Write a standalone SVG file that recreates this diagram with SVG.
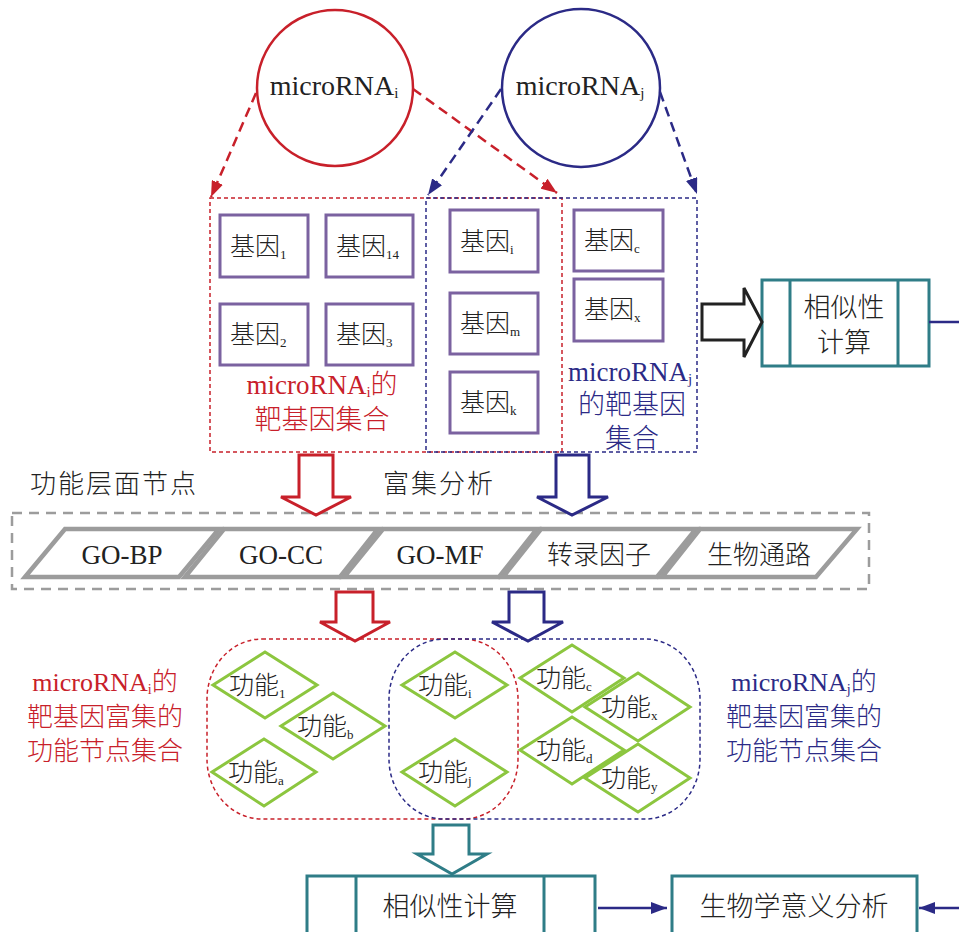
<svg xmlns="http://www.w3.org/2000/svg" width="959" height="932" viewBox="0 0 959 932">
<defs>
<style>
text{font-family:"Liberation Serif","Noto Sans CJK SC",serif;fill:#222;font-weight:300}
.t{font-size:25px}
.sub{font-size:13px}
.red{fill:#c8202a}
.blue{fill:#2b2a86}
.gene{fill:#fff;stroke:#7b62a0;stroke-width:3}
.dia{fill:#fff;stroke:#8cc63f;stroke-width:3}
.para{fill:#fff;stroke:#9c9c9c;stroke-width:4.5}
.teal{fill:#fff;stroke:#2f7d87;stroke-width:3}
.dr{fill:none;stroke:#c8202a;stroke-width:2.5;stroke-dasharray:10 6}
.db{fill:none;stroke:#2b2a86;stroke-width:2.5;stroke-dasharray:10 6}
.dr1{fill:none;stroke:#c8202a;stroke-width:1.5;stroke-dasharray:4 3}
.db1{fill:none;stroke:#2b2a86;stroke-width:1.5;stroke-dasharray:4 3}
</style>
<marker id="ar" viewBox="0 0 16 12" refX="16" refY="6" markerWidth="16" markerHeight="12" markerUnits="userSpaceOnUse" orient="auto"><path d="M0,0 L16,6 L0,12 z" fill="#c8202a"/></marker>
<marker id="ab" viewBox="0 0 16 12" refX="16" refY="6" markerWidth="16" markerHeight="12" markerUnits="userSpaceOnUse" orient="auto"><path d="M0,0 L16,6 L0,12 z" fill="#2b2a86"/></marker>
</defs>
<rect width="959" height="932" fill="#fff"/>

<g id="mirna-i">
<circle cx="335" cy="88" r="78" fill="none" stroke="#c8202a" stroke-width="2.5"/>
<text x="334" y="95" font-size="28" text-anchor="middle">microRNA<tspan font-size="15" dy="3">i</tspan></text>
</g>
<g id="mirna-j">
<circle cx="581" cy="88" r="79" fill="none" stroke="#2b2a86" stroke-width="2.5"/>
<text x="580" y="95" font-size="28" text-anchor="middle">microRNA<tspan font-size="15" dy="3">j</tspan></text>
</g>

<g id="targets-i">
<rect x="210" y="198" width="352" height="254" class="dr1"/>
<text x="322" y="394" font-size="27" class="red" text-anchor="middle">microRNA<tspan font-size="15" dy="3" class="red">i</tspan><tspan dy="-3" class="red">的</tspan></text>
<text x="322" y="429" font-size="27" class="red" text-anchor="middle">靶基因集合</text>
</g>
<g id="targets-j">
<rect x="426" y="198" width="271" height="254" class="db1"/>
<text x="630" y="381" font-size="27" class="blue" text-anchor="middle">microRNA<tspan font-size="15" dy="3" class="blue">j</tspan></text>
<text x="632" y="414" font-size="27" class="blue" text-anchor="middle">的靶基因</text>
<text x="632" y="448" font-size="27" class="blue" text-anchor="middle">集合</text>
</g>

<g id="gene-1"><rect x="220" y="215" width="88" height="62" class="gene"/><text x="230" y="255" class="t">基因<tspan class="sub" dy="4">1</tspan></text></g>
<g id="gene-14"><rect x="326" y="215" width="87" height="62" class="gene"/><text x="336" y="255" class="t">基因<tspan class="sub" dy="4">14</tspan></text></g>
<g id="gene-2"><rect x="220" y="304" width="88" height="61" class="gene"/><text x="230" y="343" class="t">基因<tspan class="sub" dy="4">2</tspan></text></g>
<g id="gene-3"><rect x="326" y="304" width="87" height="61" class="gene"/><text x="336" y="343" class="t">基因<tspan class="sub" dy="4">3</tspan></text></g>
<g id="gene-i"><rect x="450" y="210" width="88" height="62" class="gene"/><text x="460" y="250" class="t">基因<tspan class="sub" dy="4">i</tspan></text></g>
<g id="gene-m"><rect x="450" y="293" width="88" height="61" class="gene"/><text x="460" y="332" class="t">基因<tspan class="sub" dy="4">m</tspan></text></g>
<g id="gene-k"><rect x="450" y="372" width="88" height="61" class="gene"/><text x="460" y="411" class="t">基因<tspan class="sub" dy="4">k</tspan></text></g>
<g id="gene-c"><rect x="574" y="210" width="89" height="61" class="gene"/><text x="584" y="249" class="t">基因<tspan class="sub" dy="4">c</tspan></text></g>
<g id="gene-x"><rect x="574" y="279" width="89" height="62" class="gene"/><text x="584" y="318" class="t">基因<tspan class="sub" dy="4">x</tspan></text></g>

<g id="sim-1">
<rect x="762" y="280" width="167" height="86" class="teal"/>
<line x1="790" y1="280" x2="790" y2="366" stroke="#2f7d87" stroke-width="3"/>
<line x1="898" y1="280" x2="898" y2="366" stroke="#2f7d87" stroke-width="3"/>
<text x="844" y="317" font-size="27" text-anchor="middle">相似性</text>
<text x="844" y="352" font-size="27" text-anchor="middle">计算</text>
</g>

<g id="labels">
<text x="30" y="493" font-size="26" letter-spacing="2">功能层面节点</text>
<text x="383" y="493" font-size="26" letter-spacing="2">富集分析</text>
</g>

<g id="enrichment">
<rect x="12" y="513" width="857" height="76" fill="none" stroke="#9c9c9c" stroke-width="2.5" stroke-dasharray="10 7"/>
<g id="go-bp"><polygon points="25,577 65,529 219,529 179,577" class="para"/><text x="122" y="564" font-size="27" text-anchor="middle">GO-BP</text></g>
<g id="go-cc"><polygon points="185,577 224,529 378,529 340,577" class="para"/><text x="281" y="564" font-size="27" text-anchor="middle">GO-CC</text></g>
<g id="go-mf"><polygon points="344,577 383,529 537,529 499,577" class="para"/><text x="440" y="564" font-size="27" text-anchor="middle">GO-MF</text></g>
<g id="tf"><polygon points="503,577 541,529 696,529 657,577" class="para"/><text x="599" y="564" font-size="26" text-anchor="middle">转录因子</text></g>
<g id="pathway"><polygon points="662,577 700,529 857,529 816,577" class="para"/><text x="759" y="564" font-size="26" text-anchor="middle">生物通路</text></g>
</g>

<g id="func-sets">
<rect x="207" y="639" width="311" height="180" rx="55" ry="60" class="dr1"/>
<rect x="389" y="639" width="311" height="180" rx="55" ry="60" class="db1"/>
<text x="105" y="691" font-size="26" class="red" text-anchor="middle">microRNA<tspan font-size="14" dy="3" class="red">i</tspan><tspan dy="-3" class="red">的</tspan></text>
<text x="105" y="726" font-size="26" class="red" text-anchor="middle">靶基因富集的</text>
<text x="105" y="760" font-size="26" class="red" text-anchor="middle">功能节点集合</text>
<text x="804" y="691" font-size="26" class="blue" text-anchor="middle">microRNA<tspan font-size="14" dy="3" class="blue">j</tspan><tspan dy="-3" class="blue">的</tspan></text>
<text x="804" y="726" font-size="26" class="blue" text-anchor="middle">靶基因富集的</text>
<text x="804" y="760" font-size="26" class="blue" text-anchor="middle">功能节点集合</text>
</g>

<g id="f-1"><polygon points="213,685 265,652 317,685 265,718" class="dia"/><text x="229" y="694" class="t">功能<tspan class="sub" dy="4">1</tspan></text></g>
<g id="f-b"><polygon points="281,726 333,693 385,726 333,759" class="dia"/><text x="297" y="735" class="t">功能<tspan class="sub" dy="4">b</tspan></text></g>
<g id="f-a"><polygon points="212,772 264,739 316,772 264,806" class="dia"/><text x="228" y="781" class="t">功能<tspan class="sub" dy="4">a</tspan></text></g>
<g id="f-i"><polygon points="402,685 455,652 507,685 455,718" class="dia"/><text x="418" y="694" class="t">功能<tspan class="sub" dy="4">i</tspan></text></g>
<g id="f-j"><polygon points="402,772 455,739 507,772 455,806" class="dia"/><text x="418" y="781" class="t">功能<tspan class="sub" dy="4">j</tspan></text></g>
<g id="f-c"><polygon points="520,678 572,645 624,678 572,712" class="dia"/><text x="536" y="687" class="t">功能<tspan class="sub" dy="4">c</tspan></text></g>
<g id="f-x"><polygon points="585,707 638,673 690,707 638,741" class="dia"/><text x="601" y="716" class="t">功能<tspan class="sub" dy="4">x</tspan></text></g>
<g id="f-d"><polygon points="520,750 572,717 624,750 572,784" class="dia"/><text x="536" y="759" class="t">功能<tspan class="sub" dy="4">d</tspan></text></g>
<g id="f-y"><polygon points="585,778 638,744 690,778 638,812" class="dia"/><text x="601" y="787" class="t">功能<tspan class="sub" dy="4">y</tspan></text></g>

<g id="sim-2">
<rect x="307" y="876" width="288" height="60" class="teal"/>
<line x1="356" y1="876" x2="356" y2="932" stroke="#2f7d87" stroke-width="3"/>
<line x1="544" y1="876" x2="544" y2="932" stroke="#2f7d87" stroke-width="3"/>
<text x="450" y="916" font-size="27" text-anchor="middle">相似性计算</text>
</g>
<g id="bio">
<rect x="672" y="876" width="245" height="60" class="teal"/>
<text x="794" y="916" font-size="27" text-anchor="middle">生物学意义分析</text>
</g>

<g id="connectors">
<line x1="256" y1="93" x2="211" y2="197" class="dr" marker-end="url(#ar)"/>
<line x1="413" y1="89" x2="557" y2="193" class="dr" marker-end="url(#ar)"/>
<line x1="501" y1="89" x2="428" y2="195" class="db" marker-end="url(#ab)"/>
<line x1="660" y1="92" x2="697" y2="194" class="db" marker-end="url(#ab)"/>
<polygon points="702,304 744,304 744,288 762,322 744,357 744,340 702,340" fill="#fff" stroke="#222" stroke-width="3"/>
<line x1="929" y1="322" x2="959" y2="322" stroke="#2b2a86" stroke-width="2.5"/>
<polygon points="299,455 333,455 333,497 351,497 316,515 281,497 299,497" fill="#fff" stroke="#c8202a" stroke-width="3"/>
<polygon points="556,455 589,455 589,497 608,497 572,515 537,497 556,497" fill="#fff" stroke="#2b2a86" stroke-width="3"/>
<polygon points="336,592 373,592 373,622 390,622 355,641 320,622 336,622" fill="#fff" stroke="#c8202a" stroke-width="3"/>
<polygon points="509,592 544,592 544,622 563,622 528,641 492,622 509,622" fill="#fff" stroke="#2b2a86" stroke-width="3"/>
<polygon points="433,825 469,825 469,854 487,854 452,874 417,854 433,854" fill="#fff" stroke="#2f7d87" stroke-width="3"/>
<line x1="598" y1="908" x2="667" y2="908" stroke="#2b2a86" stroke-width="2.5" marker-end="url(#ab)"/>
<line x1="959" y1="908" x2="919" y2="908" stroke="#2b2a86" stroke-width="2.5" marker-end="url(#ab)"/>
</g>
</svg>
